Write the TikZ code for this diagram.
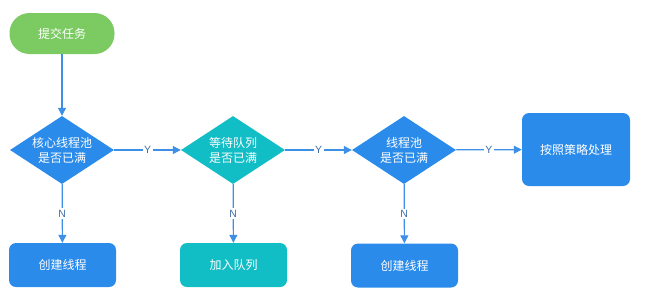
\documentclass[tikz,border=0pt]{standalone}
\usepackage{fontspec}
\setmainfont{Noto Sans CJK SC}
\newfontfamily\latinfont{Liberation Sans}
\usetikzlibrary{shapes.geometric,arrows.meta}
\definecolor{cblue}{HTML}{2A8BEA}
\definecolor{cteal}{HTML}{12BEC6}
\definecolor{cgreen}{HTML}{7BCB62}
\definecolor{cline}{HTML}{3D90E6}
\definecolor{clabel}{HTML}{3E6FA8}
\tikzset{
  base/.style={text=white, font=\fontsize{12}{15}\selectfont, align=center, inner sep=0pt},
  pill/.style={base, fill=cgreen, rounded corners=20pt, minimum width=105pt, minimum height=41pt},
  dia/.style={base, diamond, aspect=1.53, minimum width=104pt, minimum height=68pt},
  boxst/.style={base, rounded corners=7pt, minimum width=107pt, minimum height=44pt},
  conn/.style={draw=cline, line width=1.2pt, -{Triangle[length=8pt,width=8pt]}},
  yn/.style={font=\latinfont\fontsize{10.5}{12}\selectfont, text=clabel, fill=white, inner sep=1.5pt},
}
\begin{document}
\begin{tikzpicture}[x=1pt,y=-1pt]
\useasboundingbox (0,0) rectangle (647,300);
\node[pill] (start) at (62,33.5) {提交任务};
\node[dia, fill=cblue] (d1) at (62,150) {核心线程池\\是否已满};
\node[dia, fill=cteal] (d2) at (233,150) {等待队列\\是否已满};
\node[dia, fill=cblue] (d3) at (404,150) {线程池\\是否已满};
\node[boxst, fill=cblue, minimum width=108pt, minimum height=73pt] (r) at (576,149.5) {按照策略处理};
\node[boxst, fill=cblue] (b1) at (62.5,265) {创建线程};
\node[boxst, fill=cteal] (b2) at (233.5,265) {加入队列};
\node[boxst, fill=cblue] (b3) at (404.5,265.5) {创建线程};
\draw[conn] (start) -- (d1);
\draw[conn] (d1) -- node[yn]{Y} (d2);
\draw[conn] (d2) -- node[yn]{Y} (d3);
\draw[conn] (d3) -- node[yn]{Y} (r);
\draw[conn] (d1) -- node[yn]{N} (b1);
\draw[conn] (d2) -- node[yn]{N} (b2);
\draw[conn] (d3) -- node[yn]{N} (b3);
\end{tikzpicture}
\end{document}
